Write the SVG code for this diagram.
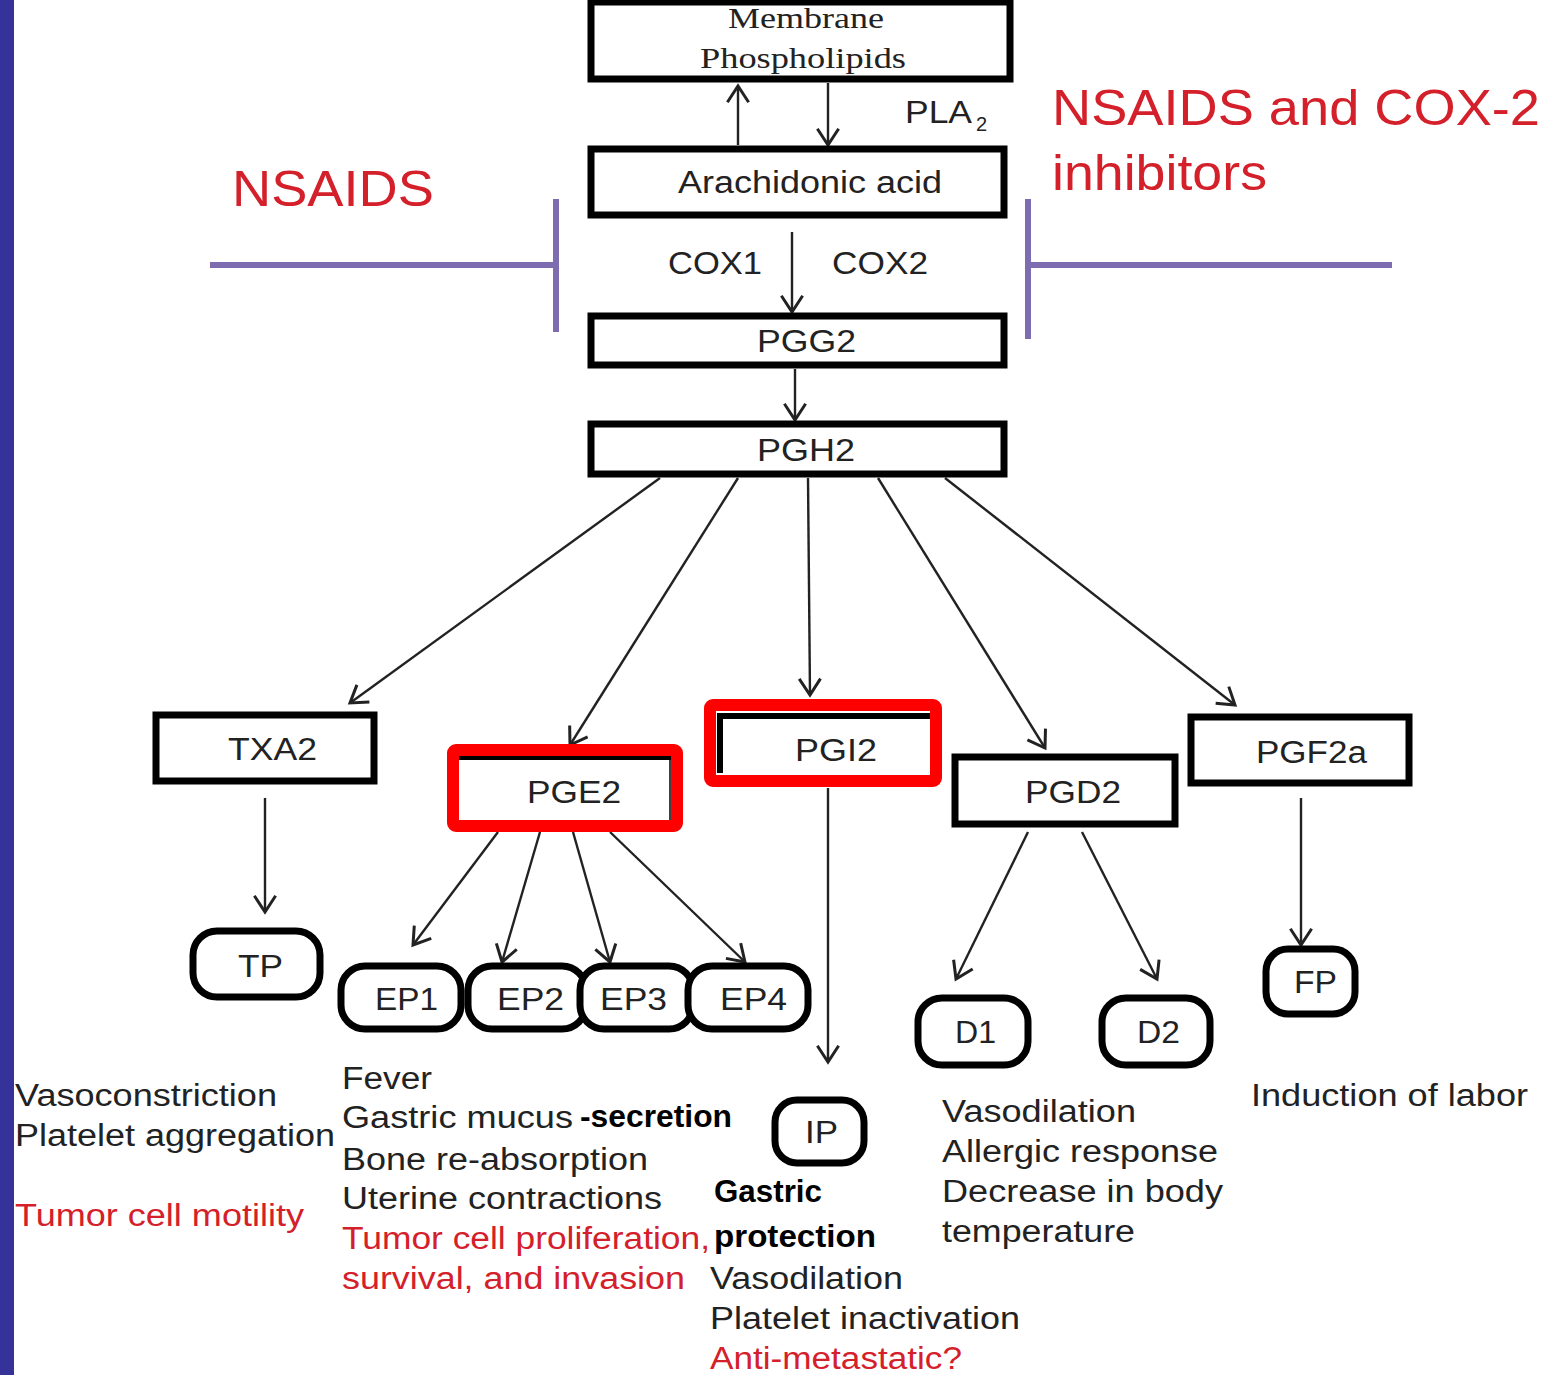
<svg xmlns="http://www.w3.org/2000/svg" width="1547" height="1375" viewBox="0 0 1547 1375">
<defs>
<marker id="ah" markerUnits="userSpaceOnUse" markerWidth="30" markerHeight="30" viewBox="-16 -12 20 24" refX="0" refY="0" orient="auto">
<path d="M-13,-8.5 L0,0 L-13,8.5" fill="none" stroke="#222" stroke-width="2.4"/>
</marker>
<style>
.box{fill:#fff;stroke:#000;stroke-width:7}
.pill{fill:#fff;stroke:#000;stroke-width:7}
.red{fill:none;stroke:#ff0000;stroke-width:12}
.t{font-family:"Liberation Sans",Arial,sans-serif;font-size:31px;fill:#222}
.serif{font-family:"Liberation Serif","Times New Roman",serif;font-size:30px;fill:#222}
.rt{fill:#d4202a}
.b{font-family:"Liberation Sans",Arial,sans-serif;font-weight:bold;font-size:31px;fill:#000}
.big{font-family:"Liberation Sans",Arial,sans-serif;font-size:50px;fill:#d4202a}
.inh{stroke:#7e6cb0;stroke-width:6;fill:none}
.con{stroke:#222;stroke-width:2.4;fill:none;marker-end:url(#ah)}
</style>
</defs>
<rect x="0" y="0" width="1547" height="1375" fill="#fff"/>
<rect x="0" y="0" width="14" height="1375" fill="#35339a"/>

<g id="connectors">
<line class="con" x1="738" y1="145" x2="738" y2="86"/>
<line class="con" x1="828" y1="83" x2="828" y2="145"/>
<line class="con" x1="792" y1="232" x2="792" y2="312"/>
<line class="con" x1="795" y1="369" x2="795" y2="420"/>
<line class="con" x1="660" y1="478" x2="350" y2="703"/>
<line class="con" x1="738" y1="478" x2="570" y2="745"/>
<line class="con" x1="808" y1="478" x2="810" y2="695"/>
<line class="con" x1="878" y1="478" x2="1045" y2="748"/>
<line class="con" x1="945" y1="478" x2="1235" y2="705"/>
<line class="con" x1="265" y1="798" x2="265" y2="912"/>
<line class="con" x1="498" y1="832" x2="413" y2="945"/>
<line class="con" x1="540" y1="832" x2="502" y2="962"/>
<line class="con" x1="573" y1="832" x2="610" y2="962"/>
<line class="con" x1="610" y1="832" x2="745" y2="962"/>
<line class="con" x1="828" y1="788" x2="828" y2="1062"/>
<line class="con" x1="1028" y1="832" x2="956" y2="979"/>
<line class="con" x1="1082" y1="832" x2="1157" y2="979"/>
<line class="con" x1="1301" y1="798" x2="1301" y2="945"/>
</g>

<g id="nsaids-inhibit">
<line class="inh" x1="210" y1="265" x2="556" y2="265"/>
<line class="inh" x1="556" y1="199" x2="556" y2="332"/>
<text class="big" x="232" y="206" textLength="202" lengthAdjust="spacingAndGlyphs">NSAIDS</text>
</g>
<g id="cox2-inhibit">
<line class="inh" x1="1028" y1="265" x2="1392" y2="265"/>
<line class="inh" x1="1028" y1="199" x2="1028" y2="339"/>
<text class="big" x="1052" y="125" textLength="488" lengthAdjust="spacingAndGlyphs">NSAIDS and COX-2</text>
<text class="big" x="1052" y="190" textLength="215" lengthAdjust="spacingAndGlyphs">inhibitors</text>
</g>

<g id="membrane">
<rect class="box" x="591" y="2" width="419" height="77"/>
<text class="serif" x="728" y="28" textLength="156" lengthAdjust="spacingAndGlyphs">Membrane</text>
<text class="serif" x="700" y="68" textLength="206" lengthAdjust="spacingAndGlyphs">Phospholipids</text>
</g>
<g id="pla2">
<text class="t" x="905" y="123" textLength="67" lengthAdjust="spacingAndGlyphs">PLA</text>
<text class="t" x="976" y="131" style="font-size:20px">2</text>
</g>
<g id="arachidonic">
<rect class="box" x="591" y="149" width="413" height="66"/>
<text class="t" x="678" y="193" textLength="264" lengthAdjust="spacingAndGlyphs">Arachidonic acid</text>
</g>
<g id="cox-labels">
<text class="t" x="668" y="274" textLength="94" lengthAdjust="spacingAndGlyphs">COX1</text>
<text class="t" x="832" y="274" textLength="96" lengthAdjust="spacingAndGlyphs">COX2</text>
</g>
<g id="pgg2">
<rect class="box" x="591" y="316" width="413" height="49"/>
<text class="t" x="757" y="352" textLength="99" lengthAdjust="spacingAndGlyphs">PGG2</text>
</g>
<g id="pgh2">
<rect class="box" x="591" y="424" width="413" height="50"/>
<text class="t" x="757" y="461" textLength="98" lengthAdjust="spacingAndGlyphs">PGH2</text>
</g>

<g id="txa2">
<rect class="box" x="156" y="715" width="218" height="66"/>
<text class="t" x="228" y="760" textLength="89" lengthAdjust="spacingAndGlyphs">TXA2</text>
</g>
<g id="pge2">
<rect x="459" y="756" width="212" height="64" fill="#fff"/>
<line x1="459" y1="758" x2="671" y2="758" stroke="#000" stroke-width="4"/>
<line x1="670" y1="756" x2="670" y2="820" stroke="#000" stroke-width="1.5"/>
<rect class="red" x="453" y="750" width="224" height="76" rx="3"/>
<text class="t" x="527" y="803" textLength="94" lengthAdjust="spacingAndGlyphs">PGE2</text>
</g>
<g id="pgi2">
<rect x="716" y="711" width="214" height="64" fill="#fff"/>
<line x1="717" y1="716" x2="930" y2="716" stroke="#000" stroke-width="6"/>
<line x1="720" y1="713" x2="720" y2="773" stroke="#000" stroke-width="6"/>
<rect class="red" x="710" y="705" width="226" height="76" rx="3"/>
<text class="t" x="795" y="761" textLength="82" lengthAdjust="spacingAndGlyphs">PGI2</text>
</g>
<g id="pgd2">
<rect class="box" x="955" y="757" width="220" height="67"/>
<text class="t" x="1025" y="803" textLength="96" lengthAdjust="spacingAndGlyphs">PGD2</text>
</g>
<g id="pgf2a">
<rect class="box" x="1191" y="717" width="218" height="66"/>
<text class="t" x="1256" y="763" textLength="111" lengthAdjust="spacingAndGlyphs">PGF2a</text>
</g>

<g id="tp">
<rect class="pill" x="193" y="931" width="127" height="66" rx="24"/>
<text class="t" x="238" y="977" textLength="45" lengthAdjust="spacingAndGlyphs">TP</text>
</g>
<g id="ep1">
<rect class="pill" x="341" y="966" width="120" height="63" rx="24"/>
<text class="t" x="375" y="1010" textLength="63" lengthAdjust="spacingAndGlyphs">EP1</text>
</g>
<g id="ep2">
<rect class="pill" x="468" y="966" width="118" height="63" rx="24"/>
<text class="t" x="497" y="1010" textLength="67" lengthAdjust="spacingAndGlyphs">EP2</text>
</g>
<g id="ep3">
<rect class="pill" x="580" y="966" width="113" height="63" rx="24"/>
<text class="t" x="600" y="1010" textLength="67" lengthAdjust="spacingAndGlyphs">EP3</text>
</g>
<g id="ep4">
<rect class="pill" x="688" y="966" width="120" height="63" rx="24"/>
<text class="t" x="720" y="1010" textLength="67" lengthAdjust="spacingAndGlyphs">EP4</text>
</g>
<g id="ip">
<rect class="pill" x="775" y="1100" width="89" height="63" rx="22"/>
<text class="t" x="805" y="1143" textLength="33" lengthAdjust="spacingAndGlyphs">IP</text>
</g>
<g id="d1">
<rect class="pill" x="918" y="998" width="110" height="67" rx="24"/>
<text class="t" x="955" y="1043" textLength="41" lengthAdjust="spacingAndGlyphs">D1</text>
</g>
<g id="d2">
<rect class="pill" x="1102" y="998" width="108" height="67" rx="24"/>
<text class="t" x="1137" y="1043" textLength="43" lengthAdjust="spacingAndGlyphs">D2</text>
</g>
<g id="fp">
<rect class="pill" x="1266" y="949" width="89" height="65" rx="22"/>
<text class="t" x="1294" y="993" textLength="43" lengthAdjust="spacingAndGlyphs">FP</text>
</g>

<g id="txa2-effects">
<text class="t" x="15" y="1106" textLength="262" lengthAdjust="spacingAndGlyphs">Vasoconstriction</text>
<text class="t" x="15" y="1146" textLength="320" lengthAdjust="spacingAndGlyphs">Platelet aggregation</text>
<text class="t rt" x="15" y="1226" textLength="289" lengthAdjust="spacingAndGlyphs">Tumor cell motility</text>
</g>
<g id="pge2-effects">
<text class="t" x="342" y="1089" textLength="90" lengthAdjust="spacingAndGlyphs">Fever</text>
<text class="t" x="342" y="1128" textLength="231" lengthAdjust="spacingAndGlyphs">Gastric mucus</text>
<text class="b" x="580" y="1127" textLength="152" lengthAdjust="spacingAndGlyphs">-secretion</text>
<text class="t" x="342" y="1170" textLength="306" lengthAdjust="spacingAndGlyphs">Bone re-absorption</text>
<text class="t" x="342" y="1209" textLength="320" lengthAdjust="spacingAndGlyphs">Uterine contractions</text>
<text class="t rt" x="342" y="1249" textLength="368" lengthAdjust="spacingAndGlyphs">Tumor cell proliferation,</text>
<text class="t rt" x="342" y="1289" textLength="343" lengthAdjust="spacingAndGlyphs">survival, and invasion</text>
</g>
<g id="pgi2-effects">
<text class="b" x="714" y="1202" textLength="108" lengthAdjust="spacingAndGlyphs">Gastric</text>
<text class="b" x="714" y="1247" textLength="162" lengthAdjust="spacingAndGlyphs">protection</text>
<text class="t" x="710" y="1289" textLength="193" lengthAdjust="spacingAndGlyphs">Vasodilation</text>
<text class="t" x="710" y="1329" textLength="310" lengthAdjust="spacingAndGlyphs">Platelet inactivation</text>
<text class="t rt" x="710" y="1369" textLength="252" lengthAdjust="spacingAndGlyphs">Anti-metastatic?</text>
</g>
<g id="pgd2-effects">
<text class="t" x="942" y="1122" textLength="194" lengthAdjust="spacingAndGlyphs">Vasodilation</text>
<text class="t" x="942" y="1162" textLength="276" lengthAdjust="spacingAndGlyphs">Allergic response</text>
<text class="t" x="942" y="1202" textLength="281" lengthAdjust="spacingAndGlyphs">Decrease in body</text>
<text class="t" x="942" y="1242" textLength="193" lengthAdjust="spacingAndGlyphs">temperature</text>
</g>
<g id="pgf2a-effects">
<text class="t" x="1251" y="1106" textLength="277" lengthAdjust="spacingAndGlyphs">Induction of labor</text>
</g>
</svg>
